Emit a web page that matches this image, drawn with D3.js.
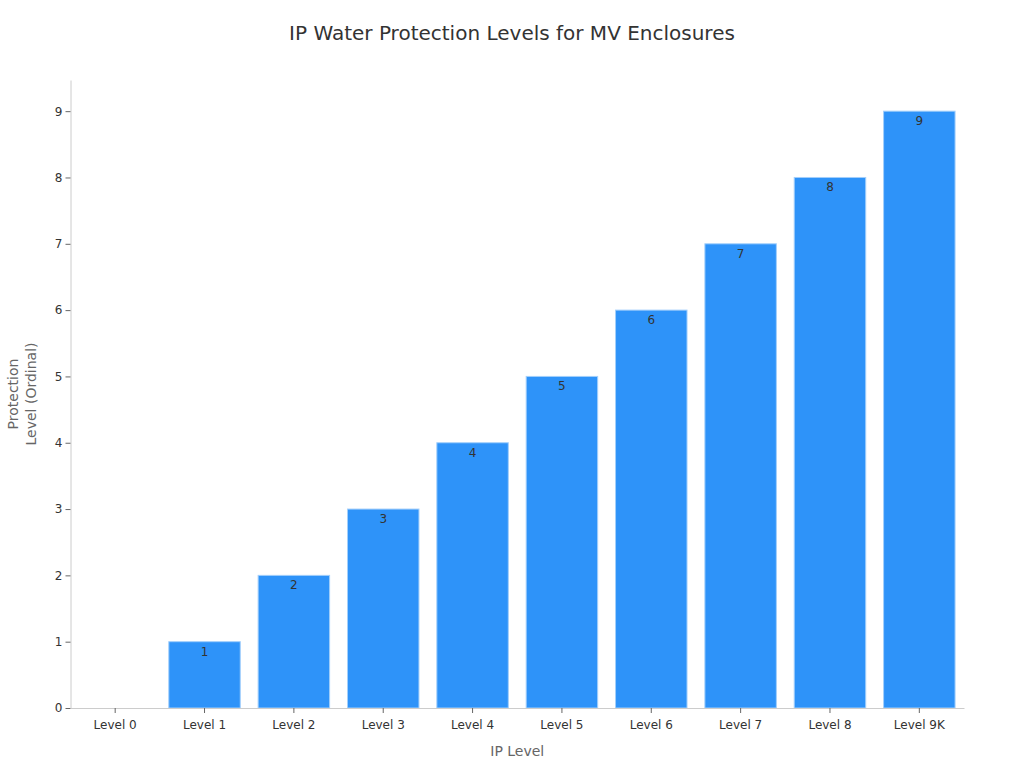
<!DOCTYPE html>
<html>
<head>
<meta charset="utf-8">
<script src="https://cdn.jsdelivr.net/npm/d3@7"></script>
<style>
  body { margin: 0; background: #fff; }
  text { font-family: "DejaVu Sans", sans-serif; }
</style>
</head>
<body>
<script>
const width = 1024;
const height = 768;

// data
const levels = ["Level 0", "Level 1", "Level 2", "Level 3", "Level 4", "Level 5", "Level 6", "Level 7", "Level 8", "Level 9K"];
const protection = [0, 1, 2, 3, 4, 5, 6, 7, 8, 9];
const yTicks = [0, 1, 2, 3, 4, 5, 6, 7, 8, 9];

const margin = { top: 80, right: 60, bottom: 60, left: 70.5 };

const svg = d3
  .select("body")
  .append("svg")
  .attr("width", width)
  .attr("height", height);

const x = d3
  .scaleBand()
  .domain(levels)
  .range([margin.left, width - margin.right])
  .paddingInner(0.2)
  .paddingOuter(0.1);

const y = d3
  .scaleLinear()
  .domain([0, 9.47])
  .range([height - margin.bottom, margin.top]);

// title
svg
  .append("text")
  .attr("x", 512)
  .attr("y", 40)
  .attr("text-anchor", "middle")
  .style("font-size", "20px")
  .style("fill", "#333")
  .text("IP Water Protection Levels for MV Enclosures");

// bars
svg
  .append("g")
  .selectAll("rect")
  .data(protection)
  .enter()
  .append("rect")
  .attr("x", (d, i) => x(levels[i]))
  .attr("y", (d) => y(d))
  .attr("width", x.bandwidth())
  .attr("height", (d) => y(0) - y(d))
  .style("fill", "#2e93f9")
  .style("stroke", "#a3cffb")
  .style("stroke-width", 1);

// value labels
svg
  .append("g")
  .selectAll("text")
  .data(protection)
  .enter()
  .filter((d) => d > 0)
  .append("text")
  .attr("x", (d) => x(levels[protection.indexOf(d)]) + x.bandwidth() / 2)
  .attr("y", (d) => y(d) + 14)
  .attr("text-anchor", "middle")
  .style("font-size", "12px")
  .style("fill", "#333")
  .text((d) => d);

// x axis
const xAxis = svg
  .append("g")
  .attr("transform", `translate(0,${y(0)})`)
  .call(d3.axisBottom(x).tickSize(5).tickSizeOuter(0));
xAxis.select(".domain").style("stroke", "#ccc");
xAxis.selectAll(".tick line").style("stroke", "#666");
xAxis.selectAll("text").style("font-size", "12px").style("fill", "#333").attr("dy", "1.1em");

// y axis
const yAxis = svg
  .append("g")
  .attr("transform", `translate(${margin.left},0)`)
  .call(d3.axisLeft(y).tickValues(yTicks).tickSize(5).tickSizeOuter(0));
yAxis.select(".domain").style("stroke", "#ccc");
yAxis.selectAll(".tick line").style("stroke", "#666");
yAxis.selectAll("text").style("font-size", "12px").style("fill", "#333");

// axis titles
svg
  .append("text")
  .attr("x", (margin.left + width - margin.right) / 2)
  .attr("y", 756)
  .attr("text-anchor", "middle")
  .style("font-size", "14px")
  .style("fill", "#666")
  .text("IP Level");

const yLabel = svg
  .append("text")
  .attr("transform", `translate(0,${(margin.top + height - margin.bottom) / 2}) rotate(-90)`)
  .attr("text-anchor", "middle")
  .style("font-size", "14px")
  .style("fill", "#666");
yLabel.append("tspan").attr("x", 0).attr("y", 18).text("Protection");
yLabel.append("tspan").attr("x", 0).attr("y", 36).text("Level (Ordinal)");
</script>
</body>
</html>
